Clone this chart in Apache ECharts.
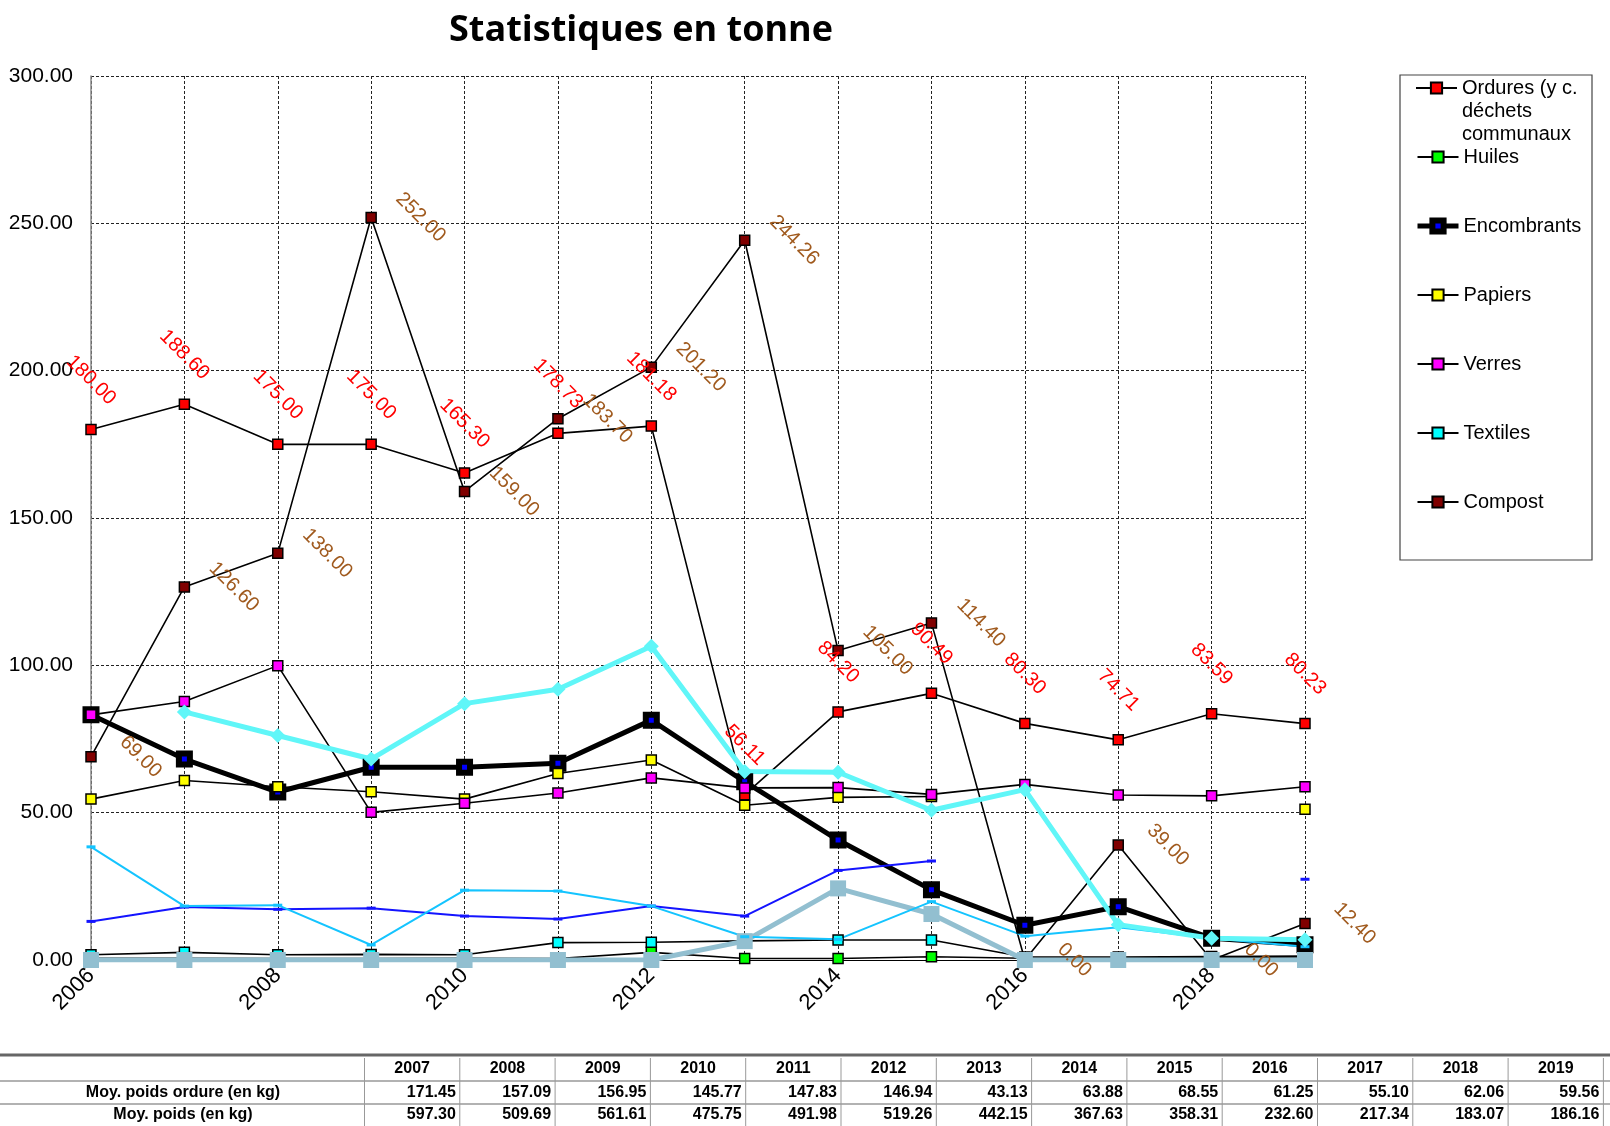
<!DOCTYPE html>
<html>
<head>
<meta charset="utf-8">
<title>Statistiques en tonne</title>
<script src="https://cdn.jsdelivr.net/npm/echarts@6/dist/echarts.min.js"></script>
<style>
    html, body { margin: 0; padding: 0; background: #fff; }
    #chart { width: 1610px; height: 1126px; }
</style>
</head>
<body>
<div id="chart"></div>
<script>
// axe des annees
const years = ['2006', '2007', '2008', '2009', '2010', '2011', '2012', '2013', '2014', '2015', '2016', '2017', '2018', '2019'];

// series de la legende (tonnes)
const ordures = [180.00, 188.60, 175.00, 175.00, 165.30, 178.73, 181.18, 56.11, 84.20, 90.49, 80.30, 74.71, 83.59, 80.23];
const huiles = [0.6, 0.6, 0.5, 0.5, 0.6, 0.5, 2.6, 0.5, 0.5, 1.1, 0.6, 0.7, 0.9, 1.0];
const encombrants = [83.2, 68.2, 57.0, 65.4, 65.4, 66.8, 81.4, 60.5, 40.7, 23.8, 11.8, 18.1, 7.4, 5.2];
const papiers = [54.6, 60.9, 58.8, 57.1, 54.6, 63.3, 67.9, 52.5, 55.2, 55.5, null, null, null, 51.2];
const verres = [83.2, 87.7, 99.9, 50.1, 53.2, 56.7, 61.8, 58.4, 58.5, 56.2, 59.6, 56.0, 55.7, 58.8];
const textiles = [1.8, 2.6, 1.8, 1.9, 1.8, 5.9, 6.0, 6.5, 6.8, 6.8, 1.0, 1.0, 1.2, 1.3];
const compost = [69.00, 126.60, 138.00, 252.00, 159.00, 183.70, 201.20, 244.26, 105.00, 114.40, 0.00, 39.00, 0.00, 12.40];

// series sans legende
const serieCyan = [null, 84.2, 76.2, 68.2, 87.0, 91.9, 106.5, 64.0, 63.7, 50.8, 57.8, 12.0, 7.4, 6.9];
const serieBleue = [13.1, 18.0, 17.2, 17.6, 14.9, 13.9, 18.3, 14.9, 30.4, 33.6, null, null, null, 27.4];
const serieCiel = [38.4, 18.3, 18.6, 5.1, 23.7, 23.4, 18.3, 7.9, 7.0, 19.8, 8.1, 11.1, 7.4, 4.5];
const serieGrise = [0, 0, 0, 0, 0, 0, 0, 6.4, 24.3, 15.6, 0, 0, 0, 0];

// tableau du bas
const tableYears = ['2007', '2008', '2009', '2010', '2011', '2012', '2013', '2014', '2015', '2016', '2017', '2018', '2019'];
const moyPoidsOrdure = ['171.45', '157.09', '156.95', '145.77', '147.83', '146.94', '43.13', '63.88', '68.55', '61.25', '55.10', '62.06', '59.56'];
const moyPoids = ['597.30', '509.69', '561.61', '475.75', '491.98', '519.26', '442.15', '367.63', '358.31', '232.60', '217.34', '183.07', '186.16'];

const FONT = '"Liberation Sans", Arial, sans-serif';
const NARROW = '"Liberation Sans Narrow", "Liberation Sans", Arial, sans-serif';
const ORDURES = 'Ordures (y c. déchets communaux';

function squareSeries(name, data, color, extra) {
    return Object.assign({
        name: name,
        type: 'line',
        data: data,
        symbol: 'rect',
        symbolSize: 10,
        itemStyle: {color: color, borderColor: '#000', borderWidth: 1.5},
        lineStyle: {color: '#000', width: 1.6},
    }, extra || {});
}

function tableGraphics() {
    const items = [];
    const colStart = 364.5;
    const colW = 95.3;
    const rows = [1069, 1093, 1115];
    items.push({type: 'line', shape: {x1: 0, y1: 1055, x2: 1610, y2: 1055}, style: {stroke: '#666', lineWidth: 3}});
    items.push({type: 'line', shape: {x1: 0, y1: 1081, x2: 1610, y2: 1081}, style: {stroke: '#999', lineWidth: 1.5}});
    items.push({type: 'line', shape: {x1: 0, y1: 1104, x2: 1610, y2: 1104}, style: {stroke: '#999', lineWidth: 1.5}});
    for (let i = 0; i <= tableYears.length; i++) {
        const x = colStart + i * colW;
        items.push({type: 'line', shape: {x1: x, y1: 1058, x2: x, y2: 1126}, style: {stroke: '#999', lineWidth: 1}});
    }
    const txt = (x, y, text, align) => ({
        type: 'text',
        style: {x: x, y: y, text: text, textAlign: align, textVerticalAlign: 'middle', fontSize: 16, fontWeight: 'bold', fontFamily: NARROW, fill: '#000'},
    });
    items.push(txt(183, rows[1], 'Moy. poids ordure (en kg)', 'center'));
    items.push(txt(183, rows[2], 'Moy. poids (en kg)', 'center'));
    tableYears.forEach((y, i) => {
        const x0 = colStart + i * colW;
        items.push(txt(x0 + colW / 2, rows[0], y, 'center'));
        items.push(txt(x0 + colW - 4, rows[1], moyPoidsOrdure[i], 'right'));
        items.push(txt(x0 + colW - 4, rows[2], moyPoids[i], 'right'));
    });
    return items;
}

const chart = echarts.init(document.getElementById('chart'));

const option = {
    animation: false,
    backgroundColor: '#fff',
    textStyle: {fontFamily: FONT},
    grid: {left: 91, right: 305, top: 76, bottom: 166, containLabel: false},
    legend: [
        {
            data: [ORDURES],
            orient: 'vertical',
            left: 1415,
            top: 30.5,
            padding: 0,
            itemWidth: 41,
            itemHeight: 14,
            formatter: () => '\n\nOrdures (y c.\ndéchets\ncommunaux',
            textStyle: {fontSize: 20, color: '#000', lineHeight: 23, fontFamily: FONT},
            selectedMode: false,
        },
        {
            data: [
                'Huiles',
                {
                    name: 'Encombrants',
                    itemStyle: {color: '#0000ff', borderColor: '#000', borderWidth: 6},
                    lineStyle: {color: '#000', width: 5},
                },
                'Papiers', 'Verres', 'Textiles', 'Compost',
            ],
            orient: 'vertical',
            left: 1415,
            top: 147,
            padding: 0,
            itemGap: 49,
            itemWidth: 41,
            itemHeight: 14,
            textStyle: {fontSize: 20, color: '#000', lineHeight: 20, fontFamily: FONT},
            selectedMode: false,
        },
    ],
    xAxis: {
        type: 'category',
        data: years,
        boundaryGap: false,
        axisLine: {show: true, lineStyle: {color: '#000', width: 1}},
        axisTick: {show: false},
        axisLabel: {interval: 1, rotate: 45, fontSize: 22, color: '#000', margin: 12, fontFamily: FONT},
        splitLine: {show: true, interval: 0, lineStyle: {color: '#222', type: [3, 2], width: 1}},
    },
    yAxis: {
        type: 'value',
        min: 0,
        max: 300,
        interval: 50,
        axisLine: {show: true, lineStyle: {color: '#888', width: 1.5}},
        axisTick: {show: false},
        axisLabel: {formatter: (v) => v.toFixed(2), fontSize: 21, color: '#000', margin: 18, fontFamily: FONT},
        splitLine: {show: true, lineStyle: {color: '#222', type: [3, 2], width: 1}},
    },
    series: [
        squareSeries(ORDURES, ordures, '#ff0000', {
            label: {
                show: true, position: 'inside', rotate: -45, offset: [-35, -35],
                align: 'center', verticalAlign: 'middle',
                formatter: (p) => p.value.toFixed(2), color: '#ff0000', fontSize: 20, fontFamily: FONT,
            },
        }),
        squareSeries('Huiles', huiles, '#00ff00'),
        {
            name: 'Encombrants',
            type: 'line',
            data: encombrants,
            symbol: 'rect',
            symbolSize: 11,
            itemStyle: {color: '#0000ff', borderColor: '#000', borderWidth: 6},
            lineStyle: {color: '#000', width: 5},
        },
        squareSeries('Papiers', papiers, '#ffff00'),
        squareSeries('Verres', verres, '#ff00ff'),
        squareSeries('Textiles', textiles, '#00ffff'),
        squareSeries('Compost', compost, '#800000', {
            label: {
                show: true, position: 'inside', rotate: -45, offset: [35, -35],
                align: 'center', verticalAlign: 'middle',
                formatter: (p) => p.value.toFixed(2), color: '#a05a1e', fontSize: 20, fontFamily: FONT,
            },
        }),
        {
            name: 'gris',
            type: 'line',
            data: serieGrise,
            symbol: 'rect',
            symbolSize: 16,
            itemStyle: {color: '#92bfd0'},
            lineStyle: {color: '#92bfd0', width: 5},
        },
        {
            name: 'bleu',
            type: 'line',
            data: serieBleue,
            symbol: 'rect',
            symbolSize: [9, 3],
            itemStyle: {color: '#1414ff'},
            lineStyle: {color: '#1414ff', width: 2},
        },
        {
            name: 'ciel',
            type: 'line',
            data: serieCiel,
            symbol: 'rect',
            symbolSize: [9, 3],
            itemStyle: {color: '#14c4ff'},
            lineStyle: {color: '#14c4ff', width: 2},
        },
        {
            name: 'cyan',
            type: 'line',
            data: serieCyan,
            symbol: 'diamond',
            symbolSize: 15,
            itemStyle: {color: '#60f6f8'},
            lineStyle: {color: '#60f6f8', width: 5},
        },
    ],
    graphic: [
        {
            type: 'text',
            style: {x: 641, y: 31, text: 'Statistiques en tonne', textAlign: 'center', textVerticalAlign: 'middle',
                fontSize: 36, fontWeight: 'bold', fontFamily: '"Open Sans", sans-serif', fill: '#000'},
        },
        {
            type: 'rect',
            shape: {x: 1400, y: 75, width: 192, height: 485},
            style: {fill: 'none', stroke: '#444', lineWidth: 1.2},
        },
    ].concat(tableGraphics()),
};

chart.setOption(option);
</script>
</body>
</html>
